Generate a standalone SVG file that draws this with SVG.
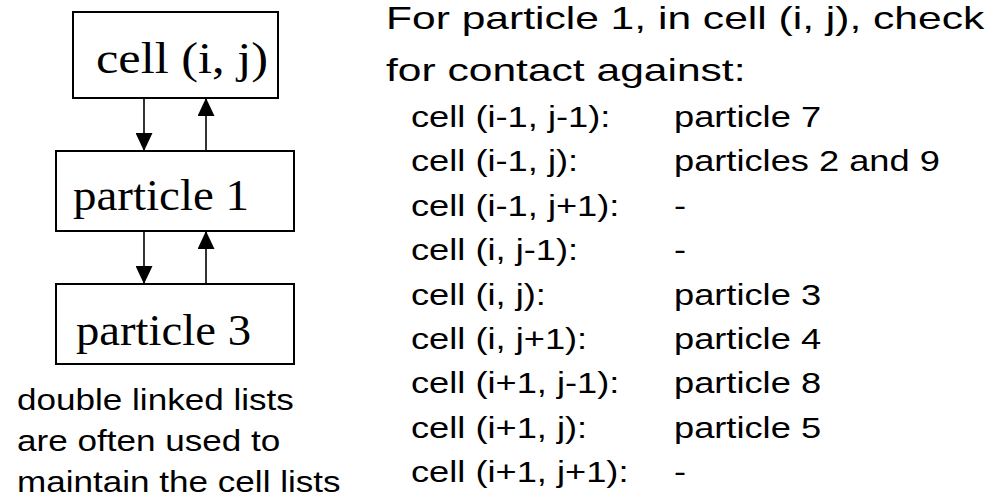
<svg xmlns="http://www.w3.org/2000/svg" width="1005" height="502" viewBox="0 0 1005 502">
  <style>
    .box { fill: #ffffff; stroke: #000000; stroke-width: 2; }
    .link { stroke: #000000; stroke-width: 1.6; fill: none; }
    .serif { font-family: "Liberation Serif", "Times New Roman", serif; font-size: 45px; fill: #000000; }
    .sans { font-family: "Liberation Sans", Arial, sans-serif; fill: #000000; }
    .head { font-size: 32px; }
    .row { font-size: 29px; }
    .note { font-size: 29px; }
  </style>
  <defs>
    <marker id="arrow" markerUnits="userSpaceOnUse" markerWidth="18" markerHeight="17" refX="18" refY="8.5" orient="auto">
      <path d="M0,0 L18,8.5 L0,17 z" fill="#000000"/>
    </marker>
  </defs>

  <rect width="1005" height="502" fill="#ffffff"/>

  <!-- linked list pointers: next (down) and prev (up) -->
  <g id="connectors">
    <line class="link" x1="144" y1="98" x2="144" y2="151" marker-end="url(#arrow)"/>
    <line class="link" x1="206" y1="151" x2="206" y2="98" marker-end="url(#arrow)"/>
    <line class="link" x1="144" y1="231" x2="144" y2="284" marker-end="url(#arrow)"/>
    <line class="link" x1="206" y1="284" x2="206" y2="231" marker-end="url(#arrow)"/>
  </g>

  <g id="cell-ij">
    <rect class="box" x="73" y="12" width="205" height="86"/>
    <text class="serif" x="96" y="73" textLength="172" lengthAdjust="spacingAndGlyphs">cell (i, j)</text>
  </g>

  <g id="particle-1">
    <rect class="box" x="56" y="151" width="238" height="80"/>
    <text class="serif" x="73" y="210" textLength="176" lengthAdjust="spacingAndGlyphs">particle 1</text>
  </g>

  <g id="particle-3">
    <rect class="box" x="56" y="284" width="238" height="80"/>
    <text class="serif" x="76" y="345" textLength="175" lengthAdjust="spacingAndGlyphs">particle 3</text>
  </g>

  <!-- caption under the list -->
  <g id="caption" class="sans note">
    <text transform="matrix(1.21 0 0 1 17 410)">double linked lists</text>
    <text transform="matrix(1.21 0 0 1 17 451)">are often used to</text>
    <text transform="matrix(1.21 0 0 1 17 492)">maintain the cell lists</text>
  </g>

  <!-- neighbour search description -->
  <g id="heading" class="sans head">
    <text transform="matrix(1.33 0 0 1 386 29)">For particle 1, in cell (i, j), check</text>
    <text transform="matrix(1.33 0 0 1 386 81)">for contact against:</text>
  </g>

  <g id="neighbour-table" class="sans row">
    <text transform="matrix(1.25 0 0 1 411 127)">cell (i-1, j-1):</text>
    <text transform="matrix(1.25 0 0 1 674 127)">particle 7</text>
    <text transform="matrix(1.25 0 0 1 411 171.4)">cell (i-1, j):</text>
    <text transform="matrix(1.25 0 0 1 674 171.4)">particles 2 and 9</text>
    <text transform="matrix(1.25 0 0 1 411 215.8)">cell (i-1, j+1):</text>
    <text transform="matrix(1.25 0 0 1 674 215.8)">-</text>
    <text transform="matrix(1.25 0 0 1 411 260.2)">cell (i, j-1):</text>
    <text transform="matrix(1.25 0 0 1 674 260.2)">-</text>
    <text transform="matrix(1.25 0 0 1 411 304.6)">cell (i, j):</text>
    <text transform="matrix(1.25 0 0 1 674 304.6)">particle 3</text>
    <text transform="matrix(1.25 0 0 1 411 349)">cell (i, j+1):</text>
    <text transform="matrix(1.25 0 0 1 674 349)">particle 4</text>
    <text transform="matrix(1.25 0 0 1 411 393.4)">cell (i+1, j-1):</text>
    <text transform="matrix(1.25 0 0 1 674 393.4)">particle 8</text>
    <text transform="matrix(1.25 0 0 1 411 437.8)">cell (i+1, j):</text>
    <text transform="matrix(1.25 0 0 1 674 437.8)">particle 5</text>
    <text transform="matrix(1.25 0 0 1 411 482.2)">cell (i+1, j+1):</text>
    <text transform="matrix(1.25 0 0 1 674 482.2)">-</text>
  </g>
</svg>
